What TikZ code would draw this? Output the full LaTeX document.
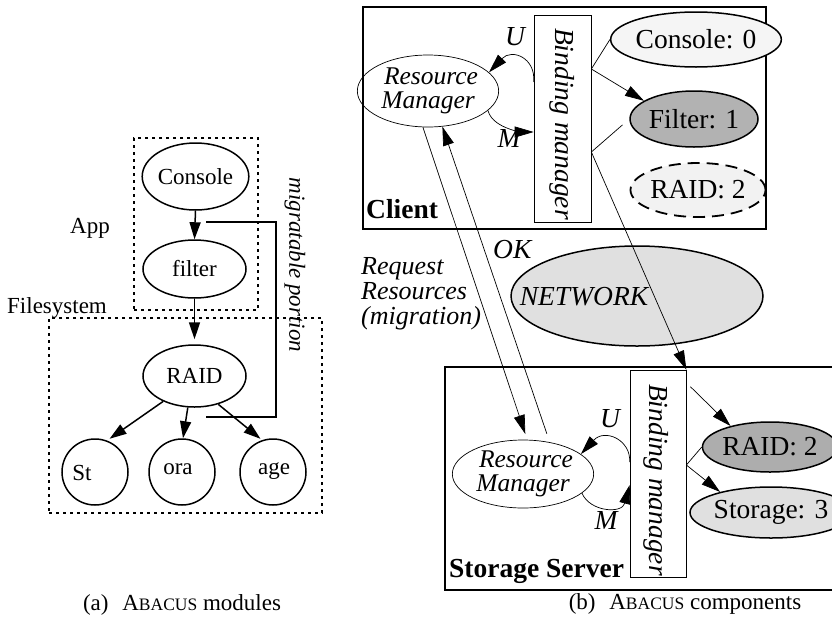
\documentclass[tikz,border=0pt]{standalone}
\usepackage{fontspec}
\setmainfont{Liberation Serif}
\usetikzlibrary{arrows.meta,shapes.geometric}
\newcommand\fa{\fontsize{23}{26}\selectfont}
\newcommand\fb{\fontsize{27.5}{22}\selectfont}
\newcommand\fm{\fontsize{25.5}{24}\selectfont}
\newcommand\abacus{A{\fontsize{17.5}{20}\selectfont BACUS}}
\begin{document}
\begin{tikzpicture}[x=1pt,y=-1pt,
  lell/.style={draw, ellipse, line width=1.5pt, inner sep=0pt, font=\fa},
  lcirc/.style={draw, circle, line width=1.5pt, inner sep=0pt, minimum size=66pt},
  ltxt/.style={inner sep=0pt, font=\fa},
  dotbox/.style={draw, line width=1.6pt, dash pattern=on 3pt off 4pt},
  arrL/.style={-{Triangle[length=17pt,width=11pt]}, line width=1.5pt},
  rell/.style={draw, ellipse, line width=1.5pt, inner sep=0pt, font=\fb},
  rmell/.style={draw, ellipse, line width=0.7pt, inner sep=0pt, font=\fm\itshape, align=center},
  bmbox/.style={draw, rectangle, line width=0.7pt, inner sep=0pt, minimum width=57pt, minimum height=207pt},
  hostbox/.style={draw, rectangle, line width=2pt, inner sep=0pt},
  rtxt/.style={inner sep=0pt, font=\fb},
  arrB/.style={-{Triangle[length=19pt,width=11pt]}, line width=0.7pt},
  thinln/.style={line width=0.7pt}
]
\useasboundingbox (0,0) rectangle (832,627);

% ---------------- (a) ----------------
\node[dotbox, minimum width=124pt, minimum height=172pt, inner sep=0pt] (appbox) at (196,224) {};
\node[dotbox, minimum width=273pt, minimum height=195pt, inner sep=0pt] (fsbox) at (185.5,415.5) {};
\node[ltxt, anchor=base west] (applbl) at (70,233) {App};
\node[ltxt, anchor=base west] (fslbl) at (7,313) {Filesystem};

\node[lell, minimum width=103pt, minimum height=67pt] (con) at (195.5,176.5) {Console};
\node[lell, minimum width=103pt, minimum height=58pt] (fil) at (194.5,269) {filter};
\node[lell, minimum width=103pt, minimum height=62pt] (raid) at (194.5,376) {RAID};
\node[lcirc] (st) at (95,472) {};
\node[lcirc] (ora) at (182,472) {};
\node[lcirc] (age) at (273,472) {};
\node[ltxt, anchor=base] (sttxt) at (82,480) {St};
\node[ltxt, anchor=base] (oratxt) at (178,474) {ora};
\node[ltxt, anchor=base] (agetxt) at (274,474) {age};

\draw[arrL] (con.south) -- (fil.north);
\draw[arrL, shorten >=5pt] (fil.south) -- (raid.north);
\draw[arrL, shorten >=3pt] (raid.-141) -- (st.69);
\draw[arrL] (raid.-102) -- ([xshift=1pt]ora.north);
\draw[arrL, shorten >=2pt] (raid.-50) -- (age.109);

\draw[line width=1.5pt] (206,222) -| (276,417) -- (206,417);
\node[ltxt, rotate=-90, font=\fa\itshape] (migr) at (295,265) {migratable portion};

\node[ltxt, anchor=base] (capa) at (182,610) {(a)\hspace{0.6em}\abacus{} modules};

% ---------------- (b) ----------------
\node[hostbox, minimum width=403pt, minimum height=222pt] (client) at (564.5,118) {};
\node[hostbox, minimum width=389pt, minimum height=223pt] (server) at (639.5,478.5) {};
\node[rtxt, anchor=base west, font=\fb\bfseries] (clbl) at (366,218) {Client};
\node[rtxt, anchor=base west, font=\fb\bfseries] (slbl) at (449,577) {Storage Server};

\node[bmbox] (bmc) at (562.5,118.5) {};
\node[rtxt, rotate=-90, font=\fb\itshape] (bmctxt) at (562.5,124) {Binding manager};
\node[bmbox, minimum width=56pt] (bms) at (658,473.5) {};
\node[rtxt, rotate=-90, font=\fb\itshape] (bmstxt) at (656,480) {Binding manager};

\node[rmell, minimum width=128pt, minimum height=72pt] (rmc) at (428,91) {\hspace*{6pt}Resource\\Manager};
\node[rmell, minimum width=128pt, minimum height=68pt] (rms) at (523,474) {\hspace*{6pt}Resource\\Manager};

\node[rell, fill=black!4, minimum width=128pt, minimum height=55pt] (con0) at (696,39.5) {Console: 0};
\node[rell, fill=black!30, minimum width=128pt, minimum height=56pt] (fil1) at (694,119) {Filter: 1};
\node[rell, fill=black!5, line width=1.8pt, dash pattern=on 12pt off 7pt, minimum width=127pt, minimum height=54pt] (raidc) at (698,190) {RAID: 2};
\node[rell, fill=black!12, minimum width=252pt, minimum height=100pt] (net) at (637,296) {};
\node[rtxt, anchor=base, font=\fb\itshape] (nettxt) at (584,305) {NETWORK};
\node[rell, fill=black!32, minimum width=124pt, minimum height=50pt] (raid2) at (770,447) {RAID: 2};
\node[rell, fill=black!12, minimum width=126pt, minimum height=51pt] (stor3) at (771,512.5) {Storage: 3};

% U / M loops
\draw[arrB] ([yshift=36.5pt]bmc.west) .. controls (536,58) and (512,48) .. (rmc.17);
\draw[arrB] (rmc.-18) .. controls (493,130) and (528,132) .. ([yshift=-13.5pt]bmc.west);
\draw[arrB] ([yshift=11.5pt]bms.west) .. controls (631,440) and (605,428) .. (rms.19);
\draw[arrB] (rms.-18) .. controls (590,512) and (622,514) .. ([yshift=-11.5pt]bms.west);
\node[rtxt, font=\fb\itshape] (uc) at (515,37) {U};
\node[rtxt, font=\fb\itshape] (mc) at (509,138) {M};
\node[rtxt, font=\fb\itshape] (us) at (610,419) {U};
\node[rtxt, font=\fb\itshape] (ms) at (606,520) {M};

% binding connectors
\draw[thinln] ([yshift=49.5pt]bmc.east) -- (con0.west);
\draw[arrB] ([yshift=49.5pt]bmc.east) -- (fil1.160);
\draw[arrB, shorten <=9pt] (fil1.west) -- ([yshift=-33.5pt]bmc.east) -- (bms.north east);
\draw[arrB] ([xshift=4pt,yshift=-17pt]bms.north east) -- (raid2.152);
\draw[thinln] ([yshift=8.5pt]bms.east) -- (raid2.west);
\draw[arrB] ([yshift=8.5pt]bms.east) -- (stor3.158);

% migration request / OK
\draw[arrB, shorten >=6pt] (rmc.-98) -- (rms.83);
\draw[arrB, shorten <=9pt] (rms.50) -- (rmc.-68);
\node[rtxt, anchor=west, align=left, font=\fontsize{26}{25}\selectfont\itshape] (req) at (361,294) {Request\\Resources\\(migration)};
\node[rtxt, anchor=base west, font=\fb\itshape] (ok) at (493,258) {OK};

\node[ltxt, anchor=base] (capb) at (685,609) {(b)\hspace{0.6em}\abacus{} components};
\end{tikzpicture}
\end{document}
